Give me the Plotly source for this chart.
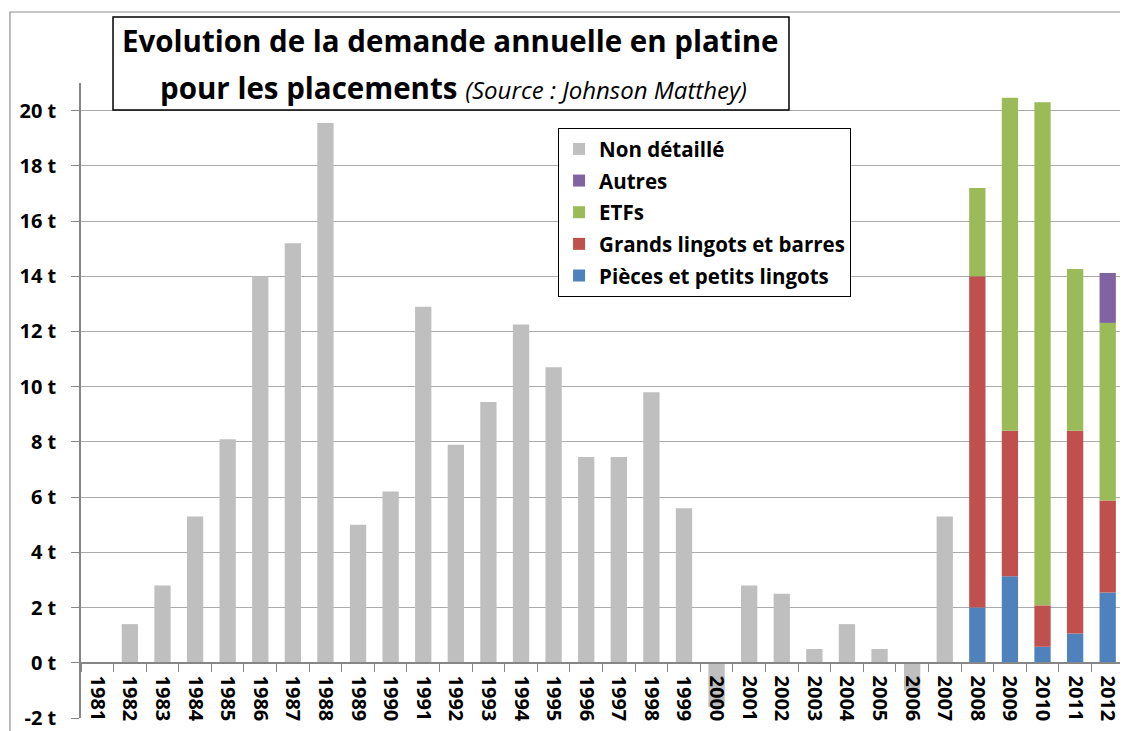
import plotly.graph_objects as go

years = [str(y) for y in range(1981, 2013)]

# tonnes
non_detaille = [0, 1.4, 2.8, 5.3, 8.1, 14.0, 15.2, 19.55, 5.0, 6.2,
                12.9, 7.9, 9.45, 12.25, 10.7, 7.45, 7.45, 9.8, 5.6, -1.6,
                2.8, 2.5, 0.5, 1.4, 0.5, -1.0, 5.3, 0, 0, 0, 0, 0]
pieces = [0] * 27 + [2.0, 3.13, 0.58, 1.06, 2.55]
grands_lingots = [0] * 27 + [12.0, 5.27, 1.5, 7.34, 3.33]
etfs = [0] * 27 + [3.2, 12.07, 18.22, 5.86, 6.43]
autres = [0] * 27 + [0, 0, 0, 0, 1.81]

ytick_vals = list(range(-2, 21, 2))
ytick_text = [f"{v} t" for v in ytick_vals]

FONT = "Open Sans"

# stacking order bottom -> top, with legend rank (top of legend first)
series = [
    ("Pièces et petits lingots", pieces, "#4F81BD", 5),
    ("Grands lingots et barres", grands_lingots, "#C0504D", 4),
    ("ETFs", etfs, "#9BBB59", 3),
    ("Autres", autres, "#8064A2", 2),
    ("Non détaillé", non_detaille, "#BFBFBF", 1),
]

fig = go.Figure()
for name, vals, color, rank in series:
    fig.add_trace(go.Bar(
        x=years, y=vals, name=name,
        legendgroup=name, legendrank=rank,
        marker=dict(color=color, line=dict(width=0)),
    ))

# the page body adds 8px on the left/top, so the figure is 8px smaller
fig.update_layout(
    width=1120, height=723,
    margin=dict(l=73, r=4, t=75, b=13),
    paper_bgcolor="white", plot_bgcolor="white",
    barmode="relative", bargap=0.5,
    font=dict(family=FONT, color="black", size=19),
    legend=dict(
        x=0.4574, y=0.9290, xanchor="left", yanchor="top",
        traceorder="grouped", tracegroupgap=2,
        bgcolor="white", bordercolor="black", borderwidth=1,
        font=dict(family=FONT, size=20.5, weight="bold", color="black"),
    ),
    showlegend=True,
)

fig.update_xaxes(
    type="category", range=[-0.5, 31.5],
    anchor="free", position=2 / 23, automargin=False,
    showline=True, linecolor="#868686", linewidth=1.5,
    ticks="outside", tickson="boundaries", ticklen=8, tickcolor="#868686",
    tickangle=90, showgrid=False, ticklabelstandoff=8,
    tickfont=dict(family=FONT, size=20, weight="bold", color="black"),
)
fig.update_yaxes(
    range=[-2, 21], automargin=False,
    tickmode="array", tickvals=ytick_vals, ticktext=ytick_text,
    showgrid=True, gridcolor="#ABABAB", gridwidth=1.2,
    zeroline=False,
    showline=True, linecolor="#868686", linewidth=1.5,
    ticks="outside", ticklen=8, tickcolor="#868686",
    ticklabelstandoff=11,
    tickfont=dict(family=FONT, size=20, weight="bold", color="black"),
)

# outer chart border (only top/left visible in the frame)
fig.add_shape(type="rect", xref="paper", yref="paper",
              x0=-0.0681, x1=1.2, y0=-0.3, y1=1.1118,
              line=dict(color="#8C8C8C", width=1.2), layer="below")

# title box
fig.add_shape(type="rect", xref="paper", yref="paper",
              x0=0.0307, x1=0.6788, y0=0.9575, y1=1.1039,
              line=dict(color="black", width=1.5), fillcolor="white",
              layer="above")
fig.add_annotation(
    xref="paper", yref="paper", x=0.3538, y=1.0677,
    text="Evolution de la demande annuelle en platine",
    showarrow=False, xanchor="center", yanchor="middle",
    font=dict(family=FONT, size=29.5, weight="bold", color="black"),
)
fig.add_annotation(
    xref="paper", yref="paper", x=0.3571, y=0.9937,
    text="pour les placements <i><span style='font-size:24px;font-weight:normal'>(Source : Johnson Matthey)</span></i>",
    showarrow=False, xanchor="center", yanchor="middle",
    font=dict(family=FONT, size=29.5, weight="bold", color="black"),
)

fig.write_html("out.html")
